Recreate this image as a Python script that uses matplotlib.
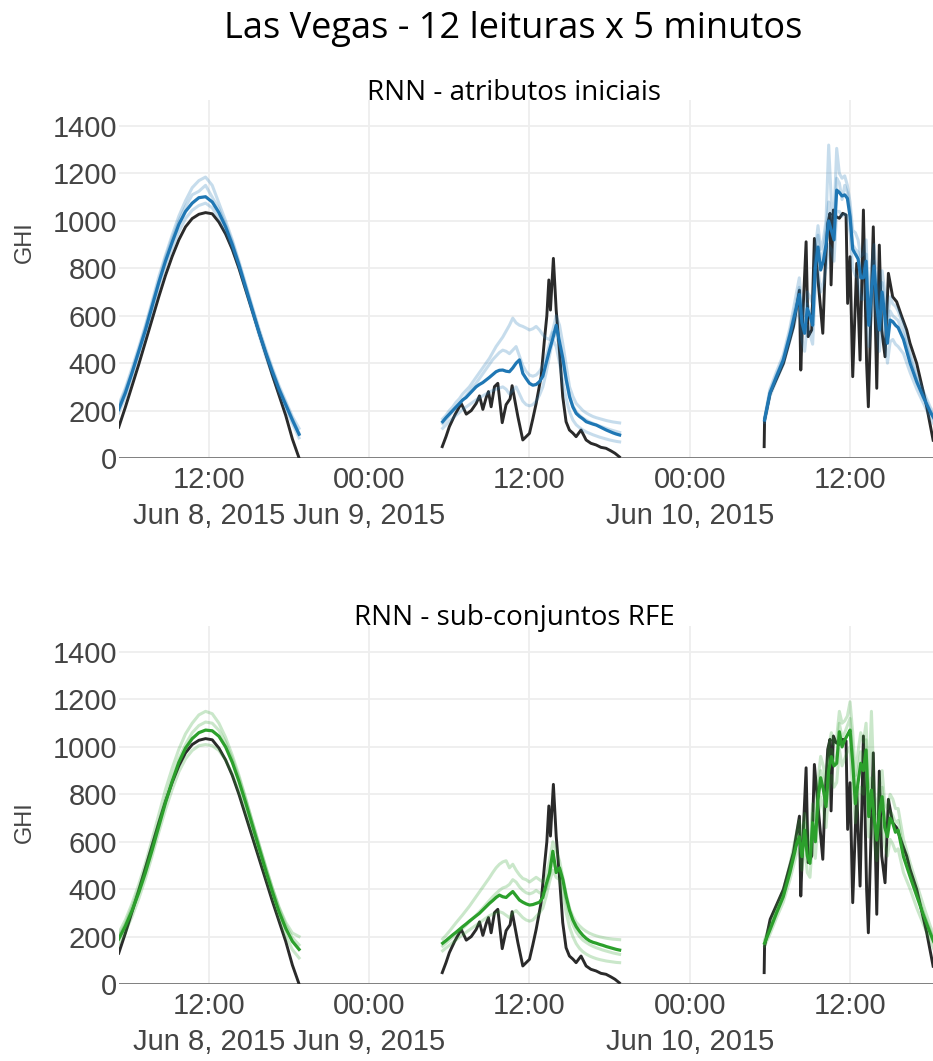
import numpy as np
import pandas as pd
import matplotlib
matplotlib.use('Agg')
import matplotlib.pyplot as plt

# GHI observado e previsões (média + execuções individuais), Las Vegas, 8-10 jun 2015
# horas do dia; cada dia tem a sua própria grelha

# --- Dia 1 (Jun 8) ---
d1_hours = np.arange(5.25, 18.76, 0.5)
d1_obs = [130, 215, 305, 395, 490, 585, 680, 770, 850, 920, 975, 1010, 1028, 1035,
          1030, 995, 945, 880, 800, 710, 620, 530, 440, 350, 265, 180, 80, 0]
d1_rnn = [205, 275, 360, 450, 540, 640, 740, 830, 910, 985, 1040, 1075, 1098, 1102,
          1080, 1035, 975, 900, 815, 720, 625, 530, 445, 365, 290, 225, 160, 100]
d1_rnn_runs = [
    [225, 295, 380, 468, 560, 660, 765, 855, 940, 1020, 1085, 1140, 1170, 1185,
     1150, 1075, 1000, 920, 830, 735, 640, 545, 460, 380, 305, 240, 175, 125],
    [190, 258, 345, 440, 525, 622, 722, 812, 885, 955, 1010, 1045, 1065, 1075,
     1055, 1012, 955, 885, 805, 710, 615, 520, 430, 350, 275, 210, 145, 85],
    [215, 285, 365, 455, 550, 650, 745, 845, 925, 1000, 1060, 1110, 1125, 1150,
     1100, 1050, 985, 910, 820, 725, 630, 540, 450, 370, 295, 230, 165, 105],
]
d1_rfe = [190, 245, 310, 385, 470, 565, 665, 765, 855, 935, 995, 1035, 1060, 1071,
          1068, 1045, 1000, 935, 855, 765, 670, 575, 480, 390, 305, 235, 180, 146]
d1_rfe_runs = [
    [215, 270, 340, 420, 510, 610, 715, 820, 910, 990, 1055, 1100, 1135, 1150,
     1140, 1100, 1040, 965, 880, 785, 685, 590, 495, 405, 325, 260, 215, 200],
    [170, 220, 285, 360, 445, 540, 640, 735, 820, 895, 950, 985, 1005, 1010,
     1005, 985, 945, 885, 810, 725, 635, 545, 455, 365, 280, 205, 145, 110],
    [200, 255, 325, 400, 485, 580, 680, 780, 870, 950, 1010, 1060, 1090, 1105,
     1100, 1070, 1020, 950, 870, 780, 685, 590, 495, 405, 320, 250, 195, 165],
]

# --- Dia 2 (Jun 9) ---
d2_obs_hours = [5.47, 5.75, 6.0, 6.4, 6.89, 7.27, 7.64, 8.01, 8.26, 8.51, 8.76, 8.93,
                9.13, 9.38, 9.63, 9.96, 10.25, 10.55, 10.7, 11.13, 11.5, 11.75, 12.0,
                12.25, 12.5, 12.87, 13.12, 13.3, 13.45, 13.57, 13.79, 14.0, 14.24,
                14.49, 14.74, 14.99, 15.25, 15.49, 15.86, 16.24, 16.6, 16.99, 17.35,
                17.73, 18.1, 18.4, 18.73]
d2_obs = [48, 90, 132, 180, 230, 185, 200, 230, 262, 205, 255, 280, 216, 301, 315,
          149, 225, 250, 305, 175, 76, 90, 104, 165, 230, 343, 498, 600, 751, 624,
          842, 624, 455, 259, 153, 118, 105, 90, 118, 76, 62, 55, 45, 41, 30, 20, 5]
d2_hours = np.arange(5.5, 18.76, 0.25)
d2_rnn = [153, 170, 185, 200, 215, 230, 245, 255, 270, 285, 300,
          310, 318, 329, 340, 352, 364, 370, 371, 366, 364,
          380, 400, 414, 357, 335, 315, 307, 310, 322, 345,
          400, 455, 505, 560, 490, 420, 330, 259, 215, 188,
          175, 165, 153, 148, 143, 139, 132, 125, 118, 112,
          106, 101, 97]
d2_rnn_runs = [
    [165, 180, 200, 215, 235, 250, 270, 285, 300, 320, 340, 360, 380, 400, 420, 445,
     470, 490, 510, 535, 560, 590, 570, 560, 555, 548, 540, 545, 555, 540, 520, 505,
     500, 540, 600, 560, 480, 390, 300, 260, 230, 215, 200, 190, 182, 175, 170, 166,
     162, 158, 155, 152, 150, 148],
    [145, 160, 178, 195, 212, 228, 245, 262, 280, 298, 315, 335, 355, 375, 395, 415,
     430, 445, 455, 450, 440, 455, 470, 430, 390, 365, 350, 345, 350, 365, 390, 430,
     480, 530, 520, 470, 400, 330, 260, 220, 195, 180, 168, 160, 152, 146, 140, 135,
     130, 125, 120, 116, 112, 108],
    [125, 140, 155, 168, 180, 192, 205, 215, 225, 235, 245, 255, 262, 270, 278, 285,
     290, 295, 300, 290, 270, 285, 300, 270, 240, 225, 220, 225, 240, 265, 300, 360,
     430, 500, 470, 400, 320, 250, 195, 160, 140, 128, 118, 110, 104, 98, 93, 88, 84,
     80, 76, 73, 70, 68],
]
d2_rfe = [172, 183, 195, 207, 218, 230, 242, 253, 265, 276, 287,
          298, 312, 326, 340, 352, 365, 375, 368, 365, 378,
          390, 372, 354, 345, 338, 333, 335, 340, 345, 365,
          420, 467, 560, 470, 490, 440, 368, 310, 270, 242,
          222, 205, 192, 182, 176, 172, 167, 163, 158, 154,
          150, 146, 143]
d2_rfe_runs = [
    [190, 205, 222, 240, 258, 275, 292, 310, 328, 348, 368, 388, 408, 428, 448, 470,
     490, 505, 515, 520, 490, 505, 480, 460, 445, 440, 430, 440, 450, 440, 430, 450,
     520, 600, 560, 520, 450, 380, 320, 285, 260, 245, 232, 222, 214, 208, 203, 199,
     196, 193, 191, 189, 188, 187],
    [160, 172, 185, 198, 210, 222, 235, 248, 262, 276, 290, 305, 320, 336, 352, 368,
     382, 395, 405, 410, 420, 440, 430, 410, 395, 385, 380, 385, 395, 385, 380, 400,
     460, 520, 480, 470, 420, 350, 290, 250, 220, 200, 185, 175, 166, 159, 153, 148,
     143, 139, 135, 131, 128, 125],
    [140, 152, 163, 175, 186, 197, 208, 218, 228, 238, 248, 258, 268, 278, 288, 295,
     300, 305, 300, 290, 280, 300, 310, 295, 280, 270, 265, 270, 285, 300, 320, 370,
     430, 480, 450, 440, 380, 300, 240, 200, 170, 150, 136, 126, 118, 112, 107, 103,
     100, 97, 95, 93, 91, 90],
]

# --- Dia 3 (Jun 10) ---
d3_obs_hours = [5.57, 5.6, 6.02, 7.01, 7.76, 8.21, 8.31, 8.46, 8.71, 8.86, 9.13, 9.33,
                9.58, 9.96, 10.13, 10.33, 10.5, 10.58, 10.75, 10.95, 11.2, 11.45, 11.7,
                11.82, 12.0, 12.2, 12.5, 12.75, 13.0, 13.24, 13.37, 13.74, 14.0, 14.19,
                14.37, 14.62, 14.87, 15.19, 15.49, 15.85, 16.24, 16.49, 16.99, 17.74,
                18.22]
d3_obs = [48, 160, 273, 399, 554, 708, 371, 596, 912, 512, 540, 926, 765, 526, 793,
          990, 1032, 730, 1046, 1018, 1011, 1032, 1025, 652, 849, 343, 821, 413, 1046,
          399, 216, 975, 294, 898, 540, 427, 779, 680, 659, 600, 540, 484, 399, 216, 75]
d3_hours = np.concatenate([[5.6, 6.0, 6.5, 7.0, 7.5],
                           np.round(np.arange(8.0, 15.61, 0.2), 2),
                           [16.0, 16.5, 17.0, 17.5, 18.0, 18.25]])
d3_rnn = [160, 273, 345, 413, 520,
          640, 690, 571, 526, 630, 600, 560, 800, 890, 793,
          830, 900, 1000, 960, 920, 1130, 1120, 1105, 1110, 1095,
          1018, 880, 860, 840, 760, 760, 830, 560, 700, 810,
          650, 540, 700, 600, 484, 582, 575, 560, 550,
          500, 399, 320, 255, 195, 170]
d3_rnn_runs = [
    [170, 290, 365, 435, 550,
     700, 760, 640, 600, 700, 680, 650, 880, 980, 880,
     920, 1000, 1320, 1080, 1020, 1306, 1200, 1180, 1190, 1150,
     1080, 960, 950, 920, 850, 860, 920, 660, 800, 900,
     740, 640, 790, 700, 580, 680, 650, 640, 620,
     560, 440, 350, 280, 215, 190],
    [150, 260, 330, 395, 495,
     600, 640, 500, 450, 560, 520, 480, 720, 800, 700,
     740, 800, 900, 880, 830, 1040, 1040, 1020, 1030, 1020,
     950, 800, 770, 760, 670, 670, 740, 470, 610, 720,
     560, 450, 610, 520, 400, 490, 500, 480, 470,
     440, 360, 290, 230, 170, 145],
    [165, 280, 350, 420, 530,
     660, 720, 600, 560, 650, 620, 600, 830, 940, 830,
     870, 960, 1080, 1010, 960, 1180, 1160, 1090, 1150, 1120,
     1040, 900, 880, 870, 790, 800, 860, 600, 740, 830,
     680, 580, 740, 640, 520, 620, 600, 590, 580,
     520, 420, 330, 265, 200, 175],
]
d3_rfe = [172, 228, 300, 368, 470,
          590, 621, 537, 649, 540, 509, 680, 600, 776, 870,
          820, 748, 900, 959, 920, 931, 1064, 1000, 1029, 1050,
          1071, 931, 760, 850, 931, 900, 987, 706, 818, 700,
          607, 720, 790, 660, 621, 700, 678, 640, 649,
          537, 452, 370, 290, 215, 180]
d3_rfe_runs = [
    [185, 250, 325, 395, 505,
     640, 690, 620, 720, 620, 590, 760, 690, 860, 960,
     920, 850, 1000, 1060, 1010, 1040, 1150, 1100, 1110, 1130,
     1190, 1060, 880, 980, 1060, 1020, 1100, 830, 1150, 820,
     720, 830, 900, 760, 740, 800, 780, 740, 740,
     610, 510, 420, 330, 245, 210],
    [160, 210, 280, 345, 440,
     550, 570, 480, 590, 470, 450, 610, 530, 700, 790,
     740, 660, 820, 880, 830, 850, 990, 920, 950, 980,
     1000, 830, 680, 760, 830, 800, 890, 620, 720, 610,
     520, 630, 700, 580, 540, 610, 590, 560, 570,
     470, 400, 320, 250, 185, 150],
    [175, 235, 305, 375, 480,
     610, 650, 560, 680, 580, 540, 720, 640, 800, 900,
     860, 780, 930, 990, 950, 960, 1100, 1040, 1060, 1090,
     1120, 970, 800, 900, 980, 940, 1030, 750, 870, 750,
     650, 760, 830, 700, 660, 730, 710, 680, 690,
     560, 470, 385, 300, 225, 190],
]

tick_times = ['2015-06-08 12:00', '2015-06-09 00:00', '2015-06-09 12:00',
              '2015-06-10 00:00', '2015-06-10 12:00']
tick_labels = ['12:00\nJun 8, 2015', '00:00\nJun 9, 2015', '12:00',
               '00:00\nJun 10, 2015', '12:00']
y_ticks = [0, 200, 400, 600, 800, 1000, 1200, 1400]

base = pd.Timestamp('2015-06-08')


def to_time(day, hours):
    return base + pd.to_timedelta(day * 24 + np.asarray(hours, dtype=float), unit='h')


obs_days = [(d1_hours, d1_obs), (d2_obs_hours, d2_obs), (d3_obs_hours, d3_obs)]
pred_hours = [d1_hours, d2_hours, d3_hours]

tick_font = dict(family='Liberation Sans', size=21, color='#444444')


def draw_panel(ax, color, means, runs):
    for d, (oh, ov) in enumerate(obs_days):
        ax.plot(to_time(d, oh), ov, color='#2a2a2a', lw=2.1, zorder=2)
    for d, ph in enumerate(pred_hours):
        t = to_time(d, ph)
        for r in runs[d]:
            ax.plot(t, r, color=color, alpha=0.25, lw=2.2, zorder=3)
        ax.plot(t, means[d], color=color, lw=2.3, zorder=4)

    ax.set_xlim(to_time(0, 5.27), to_time(2, 18.21))
    ax.set_ylim(0, 1510)
    ax.set_yticks(y_ticks)
    ax.set_yticklabels([str(v) for v in y_ticks], fontdict=tick_font)
    ax.set_xticks(pd.to_datetime(tick_times))
    ax.set_xticklabels(tick_labels, fontdict=tick_font, linespacing=1.35)
    ax.tick_params(axis='y', length=0, pad=1.5)
    ax.tick_params(axis='x', length=0, pad=6)
    ax.grid(True, color='#eeeeee', lw=1.3)
    ax.set_axisbelow(True)
    for s in ax.spines.values():
        s.set_visible(False)
    ax.axhline(0, color='#777777', lw=1.3, zorder=1)


fig = plt.figure(figsize=(9.33, 10.61), dpi=100)
W, H = 933, 1061
ax1 = fig.add_axes([119 / W, 1 - 458 / H, 814 / W, 358 / H])
ax2 = fig.add_axes([119 / W, 1 - 984 / H, 814 / W, 358 / H])

draw_panel(ax1, '#1f77b4', [d1_rnn, d2_rnn, d3_rnn], [d1_rnn_runs, d2_rnn_runs, d3_rnn_runs])
draw_panel(ax2, '#2ca02c', [d1_rfe, d2_rfe, d3_rfe], [d1_rfe_runs, d2_rfe_runs, d3_rfe_runs])

fig.text(513 / W, 1 - 29 / H, 'Las Vegas - 12 leituras x 5 minutos', ha='center', va='center',
         family='Open Sans', fontsize=26, color='black')
fig.text(514 / W, 1 - 93 / H, 'RNN - atributos iniciais', ha='center', va='center',
         family='Open Sans', fontsize=20, color='black')
fig.text(514 / W, 1 - 618 / H, 'RNN - sub-conjuntos RFE', ha='center', va='center',
         family='Open Sans', fontsize=20, color='black')
fig.text(25 / W, 1 - 242 / H, 'GHI', rotation=90, ha='center', va='center',
         family='Liberation Sans', fontsize=17, color='#444444')
fig.text(25 / W, 1 - 822 / H, 'GHI', rotation=90, ha='center', va='center',
         family='Liberation Sans', fontsize=17, color='#444444')

fig.savefig('out.png', dpi=100)
